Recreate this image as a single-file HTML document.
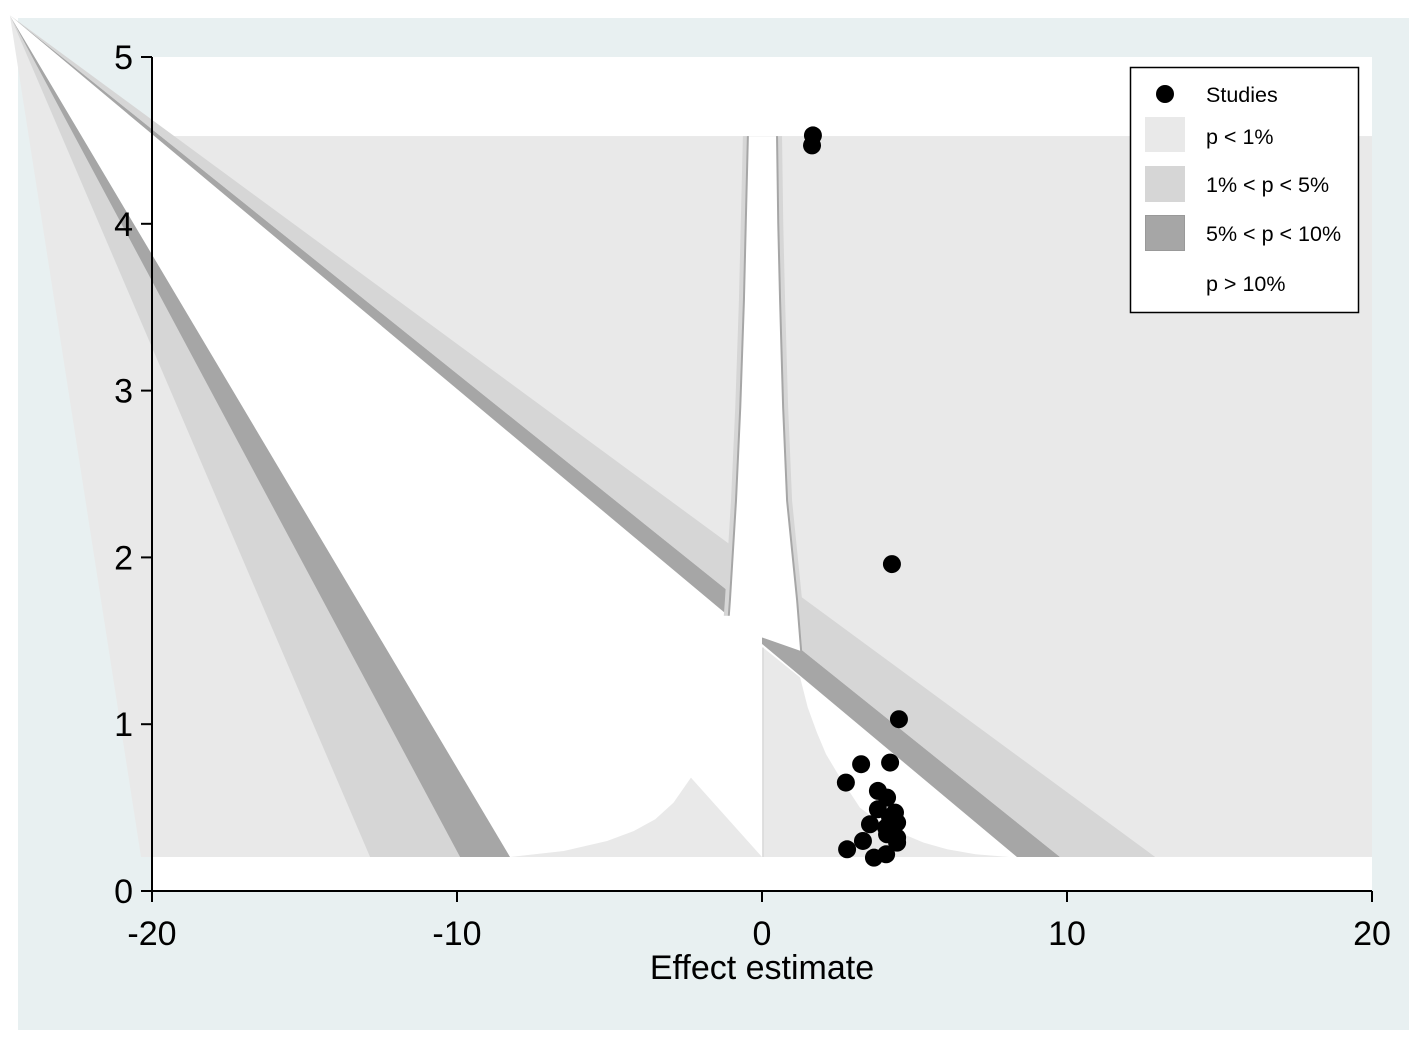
<!DOCTYPE html>
<html><head><meta charset="utf-8"><title>Contour-enhanced funnel plot</title>
<style>
html,body{margin:0;padding:0;background:#fff;}
svg{display:block;font-family:"Liberation Sans",Arial,sans-serif;}
</style></head>
<body>
<svg id="chart" width="1417" height="1038" viewBox="0 0 1417 1038" xmlns="http://www.w3.org/2000/svg">
  <rect x="18" y="18" width="1391" height="1012" fill="#e8f0f1"/>
  <rect x="152" y="57" width="1220" height="834" fill="#ffffff"/>
  <g id="contours"></g>
  <g id="points"></g>
  <g id="axes"></g>
  <g>
    <rect x="1130.5" y="67.5" width="228" height="245" fill="#fff" stroke="#000" stroke-width="1.5"/>
    <circle cx="1165" cy="94" r="9" fill="#000"/>
    <text x="1206" y="102" font-size="21.5">Studies</text>
    <rect x="1145" y="117" width="40" height="35" fill="#e9e9e9"/>
    <text x="1206" y="144" font-size="21.5">p &lt; 1%</text>
    <rect x="1145" y="166" width="40" height="36" fill="#d6d6d6"/>
    <text x="1206" y="192" font-size="21.5">1% &lt; p &lt; 5%</text>
    <rect x="1145.5" y="215.5" width="39" height="35" fill="#a6a6a6" stroke="#999" stroke-width="1"/>
    <text x="1206" y="241" font-size="21.5">5% &lt; p &lt; 10%</text>
    <text x="1206" y="291" font-size="21.5">p &gt; 10%</text>
  </g>
</svg>
<script>
// ---- data ----
const effectValues = [1.67, 1.64, 4.26, 4.49, 4.20, 3.25, 2.75, 3.80, 4.10, 3.80, 4.36, 3.54, 4.43, 4.07, 4.43, 4.10, 3.31, 4.43, 2.79, 4.07, 3.67, 4.20];
const seValues     = [4.53, 4.47, 1.96, 1.03, 0.77, 0.76, 0.65, 0.60, 0.56, 0.49, 0.47, 0.40, 0.41, 0.38, 0.32, 0.34, 0.30, 0.29, 0.25, 0.22, 0.20, 0.44];
const xTicks = [-20, -10, 0, 10, 20];
const xTickLabels = ["-20", "-10", "0", "10", "20"];
const yTicks = [0, 1, 2, 3, 4, 5];
const yTickLabels = ["0", "1", "2", "3", "4", "5"];

// ---- axis functions ----
const X0 = 152, X1 = 1372, Y0 = 891, Y1 = 57;
const xMin = -20, xMax = 20, yMin = 0, yMax = 5;
function sx(v){ return X0 + (v - xMin) / (xMax - xMin) * (X1 - X0); }
function sy(v){ return Y0 - (v - yMin) / (yMax - yMin) * (Y0 - Y1); }

const NS = "http://www.w3.org/2000/svg";
function mk(tag, attrs, parent){
  const el = document.createElementNS(NS, tag);
  for (const k in attrs) el.setAttribute(k, attrs[k]);
  parent.appendChild(el);
  return el;
}
function pts(arr){ return arr.map(p => p[0] + "," + p[1]).join(" "); }

// ---- contour regions (background geometry in data units) ----
const cg = document.getElementById("contours");
const seLow = 0.204, seHigh = 4.526;
const apex = [sx(-24.66), sy(5.25)];
const bot = v => [sx(v), sy(seLow)];

let el;
el = mk("rect", {x: sx(-20), y: sy(seHigh), width: sx(20) - sx(-20), height: sy(seLow) - sy(seHigh), fill: "#e9e9e9"}, cg);



const wedges = [
  ["wedge-left-outer", [-20.36, -12.85], "#e9e9e9"],
  ["wedge-left-p5", [-12.85, -9.90], "#d6d6d6"],
  ["wedge-left-p10", [-9.90, -8.26], "#a6a6a6"],
  ["wedge-nonsig", [-8.26, 8.36], "#ffffff"],
  ["wedge-right-p10", [8.36, 9.77], "#a6a6a6"],
  ["wedge-right-p5", [9.77, 12.89], "#d6d6d6"]
];
wedges.forEach(w => {
  const e = mk("polygon", {points: pts([apex, bot(w[1][0]), bot(w[1][1])]), fill: w[2]}, cg);
  
  
});

// central spike (null-effect region)
const spikeL = [[-0.43,4.526],[-0.5,4.0],[-0.56,3.54],[-0.68,2.9],[-0.82,2.34],[-1.02,1.74],[-1.08,1.59]];
const spikeR = [[0.46,4.526],[0.5,4.0],[0.56,3.54],[0.66,2.9],[0.79,2.34],[1.12,1.74],[1.25,1.44]];
function spikePath(off){
  const L = spikeL.map(p => [sx(p[0]) - off, sy(p[1])]);
  const R = spikeR.map(p => [sx(p[0]) + off, sy(p[1])]).reverse();
  return pts(L.concat(R));
}
el = mk("polygon", {points: spikePath(6), fill: "#d6d6d6"}, cg);


el = mk("polygon", {points: spikePath(2), fill: "#a6a6a6"}, cg);


el = mk("polygon", {points: spikePath(0), fill: "#ffffff"}, cg);


el = mk("rect", {x: sx(-1.4), y: sy(1.65), width: sx(0) - sx(-1.4), height: sy(seLow) - sy(1.65), fill: "#fff"}, cg);



// right gray patch next to zero
const rightPatch = [[0.03,1.46],[1.25,1.28],[1.50,1.10],[1.80,0.95],[2.10,0.82],[2.46,0.71],[2.85,0.60],[3.21,0.50],[3.80,0.42],[4.52,0.35],[5.30,0.29],[6.07,0.25],[7.0,0.22],[8.10,seLow],[0.03,seLow]];
el = mk("polygon", {points: pts(rightPatch.map(p => [sx(p[0]), sy(p[1])])), fill: "#e9e9e9"}, cg);


el = mk("line", {x1: sx(0.03), y1: sy(1.46), x2: sx(0.03), y2: sy(seLow), stroke: "#d2d2d2", "stroke-width": 1.2}, cg);



// left bottom gray patch
const leftPatch = [[-8.26,seLow],[-6.5,0.24],[-5.08,0.30],[-4.2,0.36],[-3.5,0.43],[-2.9,0.53],[-2.33,0.68],[0,seLow]];
el = mk("polygon", {points: pts(leftPatch.map(p => [sx(p[0]), sy(p[1])])), fill: "#e9e9e9"}, cg);



// ---- study points ----
const pg = document.getElementById("points");
effectValues.forEach((v, i) => {
  const c = mk("circle", {cx: sx(v), cy: sy(seValues[i]), r: 9, fill: "#000"}, pg);
  
  
});

// ---- axes ----
const ag = document.getElementById("axes");
el = mk("line", {x1: X0, y1: Y1, x2: X0, y2: Y0, stroke: "#000", "stroke-width": 2}, ag);


el = mk("line", {x1: X0, y1: Y0, x2: X1, y2: Y0, stroke: "#000", "stroke-width": 2}, ag);


yTicks.forEach((t, i) => {
  const tk = mk("line", {x1: X0 - 11, y1: sy(t), x2: X0, y2: sy(t), stroke: "#000", "stroke-width": 2}, ag);
  
  
  const tx = mk("text", {x: X0 - 19, y: sy(t) + 12, "font-size": 34, "text-anchor": "end", fill: "#000"}, ag);
  tx.textContent = yTickLabels[i];
  
  
});
xTicks.forEach((t, i) => {
  const tk = mk("line", {x1: sx(t), y1: Y0, x2: sx(t), y2: Y0 + 11, stroke: "#000", "stroke-width": 2}, ag);
  
  
  const tx = mk("text", {x: sx(t), y: Y0 + 54, "font-size": 34, "text-anchor": "middle", fill: "#000"}, ag);
  tx.textContent = xTickLabels[i];
  
  
});
el = mk("text", {x: sx(0), y: 979, "font-size": 34, "text-anchor": "middle", fill: "#000"}, ag);
el.textContent = "Effect estimate";


</script>
</body></html>
